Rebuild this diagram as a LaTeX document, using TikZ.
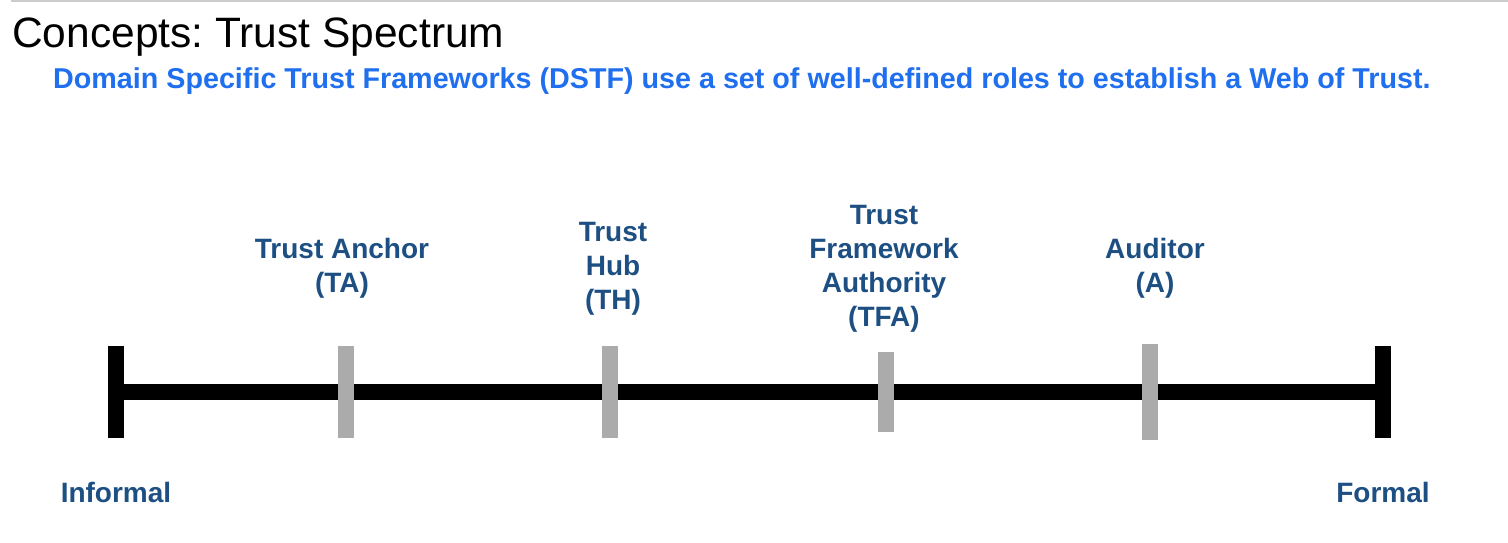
\documentclass[tikz,border=0pt]{standalone}
\usepackage{fontspec}
\setmainfont{Liberation Sans}
\frenchspacing
\definecolor{labelblue}{HTML}{1D4F83}
\definecolor{subblue}{HTML}{1F6FEF}
\definecolor{tickgray}{HTML}{AAABAA}
\definecolor{rulegray}{HTML}{CCCCCC}
\begin{document}
\begin{tikzpicture}[x=1pt,y=-1pt,
  endbar/.style={fill=black,inner sep=0pt,minimum width=16pt,minimum height=92pt},
  tickbar/.style={fill=tickgray,inner sep=0pt,minimum width=16pt},
  rolelabel/.style={inner sep=0pt,align=center,text=labelblue,anchor=north,
    font=\fontsize{28}{34}\selectfont\bfseries},
  endlabel/.style={inner sep=0pt,text=labelblue,anchor=base,
    font=\fontsize{28}{34}\selectfont\bfseries}]
\useasboundingbox (0,0) rectangle (1508,542);
% top rule
\draw[rulegray,line width=1.5pt] (11,1) -- (1508,1);
% title
\node[anchor=base west,inner sep=0pt,font=\fontsize{42.5}{50}\selectfont] (title) at (12,47) {Concepts: Trust Spectrum};
\node[anchor=base west,inner sep=0pt,text=subblue,font=\fontsize{28.7}{34}\selectfont\bfseries] (sub) at (53,88) {Domain Specific Trust Frameworks (DSTF) use a set of well-defined roles to establish a Web of Trust.};
% end bars
\node[endbar] (left) at (116,392) {};
\node[endbar] (right) at (1383,392) {};
% main line
\draw[line width=16pt] (left.center) -- (right.center);
% ticks
\node[tickbar,minimum height=92pt] (ta) at (346,392) {};
\node[tickbar,minimum height=92pt] (th) at (610,392) {};
\node[tickbar,minimum height=80pt] (tfa) at (886,392) {};
\node[tickbar,minimum height=96pt] (au) at (1150,392) {};
% labels
\node[rolelabel] (lta) at (342,238) {Trust Anchor\\(TA)};
\node[rolelabel] (lth) at (613,222) {Trust\\Hub\\(TH)};
\node[rolelabel] (ltfa) at (884,205) {Trust\\Framework\\Authority\\(TFA)};
\node[rolelabel] (lau) at (1155,238) {Auditor\\(A)};
\node[endlabel] (inf) at (116,502) {Informal};
\node[endlabel] (form) at (1383,502) {Formal};
\end{tikzpicture}
\end{document}
